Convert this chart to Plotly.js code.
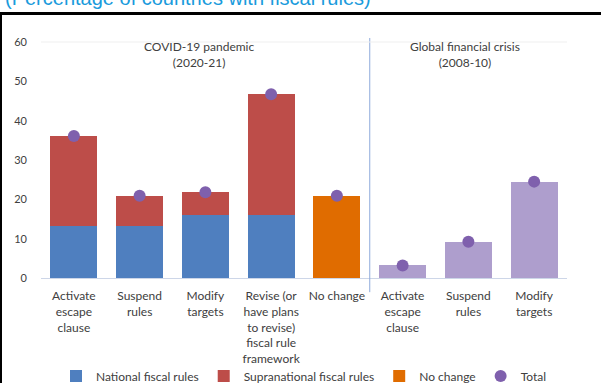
<!DOCTYPE html>
<html>
<head>
<meta charset="utf-8">
<script src="https://cdn.plot.ly/plotly-3.0.1.min.js"></script>
<style>
  html, body { margin: 0; padding: 0; background: #ffffff; overflow: hidden; }
  #wrap { position: relative; width: 601px; height: 383px; overflow: hidden; }
  #chart { position: absolute; left: 0; top: 0; width: 601px; height: 383px; }
  #subtitle {
    position: absolute; left: 5px; top: -12px; white-space: nowrap;
    font-family: "Liberation Sans", Arial, sans-serif; font-size: 20px; line-height: 20px;
    color: #1a9bdc;
  }
  #rule-top { position: absolute; left: 0; top: 12px; width: 601px; height: 3px; background: #000; }
  #rule-left { position: absolute; left: 0; top: 12px; width: 2px; height: 371px; background: #000; }
</style>
</head>
<body>
<div id="wrap">
  <div id="chart"></div>
  <div id="subtitle">(Percentage of countries with fiscal rules)</div>
  <div id="rule-top"></div>
  <div id="rule-left"></div>
</div>
<script>
// Category tick labels (two episodes side by side)
const categories = [
  "Activate<br>escape<br>clause",
  "Suspend<br>rules",
  "Modify<br>targets",
  "Revise (or<br>have plans<br>to revise)<br>fiscal rule<br>framework",
  "No change",
  "Activate<br>escape<br>clause",
  "Suspend<br>rules",
  "Modify<br>targets"
];

// COVID-19 pandemic (2020-21): first four categories
const covidIdx = [0, 1, 2, 3];
const nationalRules = [13.2, 13.2, 16.0, 16.0];
const supranationalRules = [22.9, 7.7, 5.8, 30.7];

// COVID-19: no change
const noChangeIdx = [4];
const noChange = [20.9];

// Global financial crisis (2008-10)
const gfcIdx = [5, 6, 7];
const gfcValues = [3.2, 9.2, 24.5];

// Totals shown as dots
const totalIdx = categories.map((_, i) => i);
const totals = [
  ...nationalRules.map((v, i) => +(v + supranationalRules[i]).toFixed(1)),
  ...noChange,
  ...gfcValues
];

const FONT = "Lato, 'Open Sans', sans-serif";
const TXT = "#404040";

const traces = [
  {
    type: "bar", name: "National fiscal rules",
    x: covidIdx, y: nationalRules,
    marker: { color: "#4f7fbf" }, hoverinfo: "y+name"
  },
  {
    type: "bar", name: "Supranational fiscal rules",
    x: covidIdx, y: supranationalRules,
    marker: { color: "#bd4d49" }, hoverinfo: "y+name"
  },
  {
    type: "bar", name: "No change",
    x: noChangeIdx, y: noChange,
    marker: { color: "#e06c00" }, hoverinfo: "y+name"
  },
  {
    type: "bar", name: "Global financial crisis",
    x: gfcIdx, y: gfcValues, showlegend: false,
    marker: { color: "#ae9ecd" }, hoverinfo: "y"
  },
  {
    type: "scatter", mode: "markers", name: "Total",
    x: totalIdx, y: totals,
    marker: { color: "#7f60ad", size: 12 }, hoverinfo: "y+name"
  }
];

const layout = {
  width: 601, height: 383,
  margin: { l: 41, r: 34, t: 42, b: 105, autoexpand: false },
  paper_bgcolor: "#ffffff", plot_bgcolor: "#ffffff",
  barmode: "stack", bargap: 0.285,
  font: { family: FONT, size: 12, color: TXT },
  showlegend: true,
  legend: {
    orientation: "h", x: 0.5, xanchor: "center", y: -0.415, yanchor: "middle",
    bgcolor: "rgba(0,0,0,0)",
    font: { family: FONT, size: 12, color: TXT },
    traceorder: "normal", itemwidth: 30
  },
  xaxis: {
    range: [-0.5, categories.length - 0.5],
    tickmode: "array", tickvals: totalIdx, ticktext: categories,
    showgrid: false, zeroline: false, ticks: "",
    showline: true, linecolor: "#cdd6e8", linewidth: 1,
    tickfont: { family: FONT, size: 12, color: TXT },
    ticklabelstandoff: 7, fixedrange: true
  },
  yaxis: {
    range: [0, 60], dtick: 10, showgrid: false, zeroline: false,
    showline: false, ticks: "",
    tickfont: { family: FONT, size: 11, color: TXT },
    ticklabelstandoff: 13, fixedrange: true
  },
  yaxis2: {
    overlaying: "y", side: "right",
    range: [0, 60], dtick: 10, showgrid: false, zeroline: false,
    showline: false, ticks: "",
    tickfont: { family: FONT, size: 11, color: TXT },
    ticklabelstandoff: 13, fixedrange: true
  },
  shapes: [
    // divider between the two episodes
    {
      type: "line", xref: "x", yref: "paper",
      x0: 4.5, x1: 4.5, y0: -0.06, y1: 1.017,
      line: { color: "#8eaadb", width: 1 }
    },
    // faint frame line along the top of the plot area
    {
      type: "line", xref: "paper", yref: "paper",
      x0: 0, x1: 1, y0: 1, y1: 1,
      line: { color: "#efefef", width: 1 }
    }
  ],
  annotations: [
    {
      xref: "paper", yref: "paper", x: 0.300, y: 0.945,
      xanchor: "center", yanchor: "middle", showarrow: false,
      text: "COVID-19 pandemic<br>(2020-21)",
      font: { family: FONT, size: 12, color: TXT }
    },
    {
      xref: "paper", yref: "paper", x: 0.806, y: 0.945,
      xanchor: "center", yanchor: "middle", showarrow: false,
      text: "Global financial crisis<br>(2008-10)",
      font: { family: FONT, size: 12, color: TXT }
    }
  ]
};

Plotly.newPlot("chart", traces, layout, { displayModeBar: false, staticPlot: true });
</script>
</body>
</html>
